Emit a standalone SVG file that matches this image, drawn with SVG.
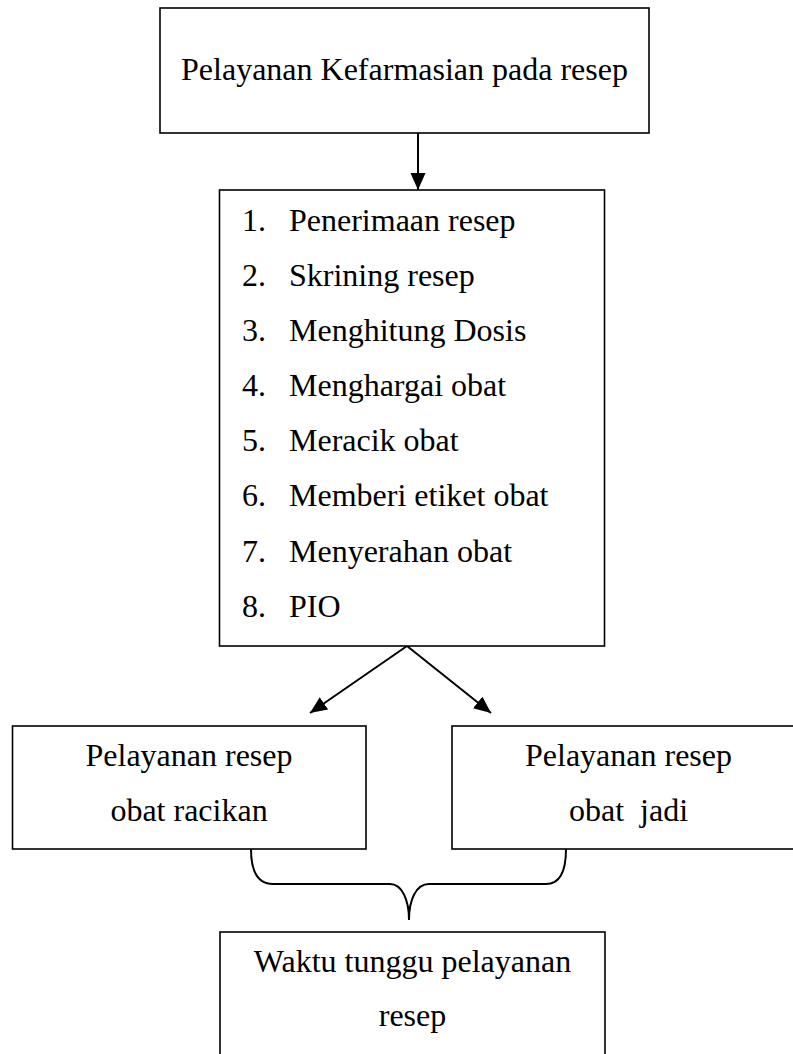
<svg xmlns="http://www.w3.org/2000/svg" width="793" height="1054" viewBox="0 0 793 1054">
<style>
.box{fill:#fff;stroke:#000;stroke-width:1.6}
.t{font-family:"Liberation Serif","Times New Roman",serif;font-size:32px;fill:#000}
.c{text-anchor:middle}
.con{fill:none;stroke:#000;stroke-width:2}
</style>
<defs>
<marker id="ah" markerUnits="userSpaceOnUse" markerWidth="18" markerHeight="16" refX="17" refY="7.5" orient="auto">
<path d="M0,0 L17,7.5 L0,15 z" fill="#000"/>
</marker>
</defs>
<rect width="793" height="1054" fill="#fff"/>
<g id="connectors">
<line class="con" x1="418" y1="133" x2="418" y2="190" marker-end="url(#ah)"/>
<line class="con" x1="407" y1="646" x2="310" y2="713" marker-end="url(#ah)"/>
<line class="con" x1="407" y1="646" x2="491" y2="713" marker-end="url(#ah)"/>
<path class="con" d="M251,849 C251,870 257,884 273,884 L390,884 C402,884 409,900 409,920 C409,900 416,884 429,884 L546,884 C560,884 566,870 566,849"/>
</g>
<g id="node-top">
<rect class="box" x="160" y="8" width="489" height="125"/>
<text class="t c" x="404.5" y="80">Pelayanan Kefarmasian pada resep</text>
</g>
<g id="node-steps">
<rect class="box" x="219.5" y="190" width="385" height="456"/>
<text class="t" x="242" y="230.7">1.</text><text class="t" x="289" y="230.7">Penerimaan resep</text>
<text class="t" x="242" y="285.8">2.</text><text class="t" x="289" y="285.8">Skrining resep</text>
<text class="t" x="242" y="341">3.</text><text class="t" x="289" y="341">Menghitung Dosis</text>
<text class="t" x="242" y="396.1">4.</text><text class="t" x="289" y="396.1">Menghargai obat</text>
<text class="t" x="242" y="451.3">5.</text><text class="t" x="289" y="451.3">Meracik obat</text>
<text class="t" x="242" y="506.4">6.</text><text class="t" x="289" y="506.4">Memberi etiket obat</text>
<text class="t" x="242" y="561.5">7.</text><text class="t" x="289" y="561.5">Menyerahan obat</text>
<text class="t" x="242" y="616.7">8.</text><text class="t" x="289" y="616.7">PIO</text>
</g>
<g id="node-racikan">
<rect class="box" x="12.5" y="726" width="353.5" height="123"/>
<text class="t c" x="189" y="766">Pelayanan resep</text>
<text class="t c" x="189" y="821">obat racikan</text>
</g>
<g id="node-jadi">
<rect class="box" x="452" y="726" width="353" height="123"/>
<text class="t c" x="628.5" y="766">Pelayanan resep</text>
<text class="t c" x="628.5" y="821" xml:space="preserve">obat  jadi</text>
</g>
<g id="node-waktu">
<rect class="box" x="220" y="932" width="385" height="140"/>
<text class="t c" x="412.5" y="972">Waktu tunggu pelayanan</text>
<text class="t c" x="412.5" y="1026">resep</text>
</g>
</svg>
